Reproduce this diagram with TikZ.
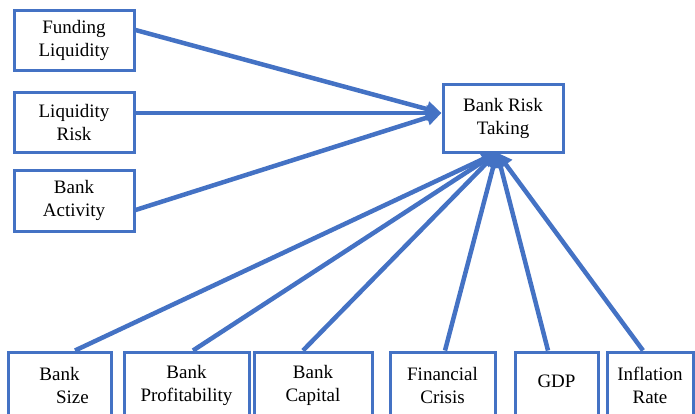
\documentclass[tikz,border=0pt]{standalone}
\usepackage{fontspec}
\setmainfont{Liberation Serif}
\newfontfamily\tnr{Liberation Serif}
\usetikzlibrary{arrows.meta}
\definecolor{boxblue}{HTML}{4472C4}
\begin{document}
\begin{tikzpicture}[x=1pt,y=-1pt,
  box/.style={draw=boxblue,line width=3pt,fill=white,align=center,inner sep=0pt,
    font=\tnr\fontsize{19}{23}\selectfont},
  link/.style={draw=boxblue,line width=4.5pt,-{Triangle[length=15pt,width=15pt]}}]
\useasboundingbox (0,0) rectangle (695,413);
\clip (0,0) rectangle (695,413);
% left boxes
\node[box,minimum width=120pt,minimum height=60pt] (fund) at (74,40) {Funding\\Liquidity};
\node[box,minimum width=120pt,minimum height=60pt] (liq) at (74,122) {Liquidity\\Risk};
\node[box,minimum width=120pt,minimum height=61pt] (act) at (74,200.5) {Bank\\Activity};
% target
\node[box,minimum width=120pt,minimum height=68pt] (brt) at (503,118) {Bank Risk\\Taking};
% bottom boxes
\node[box,minimum width=103pt,minimum height=66pt] (size) at (59.5,385) {Bank\\\hspace*{26pt}Size};
\node[box,minimum width=125pt,minimum height=66pt] (prof) at (186.5,385) {Bank\\Profitability};
\node[box,minimum width=118pt,minimum height=66pt] (cap) at (313,385) {Bank\\Capital};
\node[box,minimum width=105pt,minimum height=66pt] (cris) at (442.5,385) {Financial\\Crisis};
\node[box,minimum width=83pt,minimum height=66pt] (gdp) at (556.5,385) {\raisebox{7pt}{GDP}};
\node[box,minimum width=86pt,minimum height=66pt] (infl) at (650,385) {Inflation\\Rate};
% connectors
\draw[link] ([yshift=10pt]fund.east) -- ([yshift=5pt]brt.west);
\draw[link] ([yshift=9pt]liq.east) -- ([yshift=5pt]brt.west);
\draw[link] ([yshift=-9.5pt]act.east) -- ([yshift=5pt]brt.west);
\draw[link] ([xshift=15.5pt]size.north) -- ([xshift=-6pt,yshift=1pt]brt.south);
\draw[link] ([xshift=6.5pt]prof.north) -- ([xshift=-6pt,yshift=1pt]brt.south);
\draw[link] ([xshift=-10pt]cap.north) -- ([xshift=-6pt,yshift=1pt]brt.south);
\draw[link] ([xshift=2.5pt]cris.north) -- ([xshift=-6pt,yshift=1pt]brt.south);
\draw[link] ([xshift=-8.5pt]gdp.north) -- ([xshift=-6pt,yshift=1pt]brt.south);
\draw[link] ([xshift=-7pt]infl.north) -- ([xshift=-6pt,yshift=1pt]brt.south);
\end{tikzpicture}
\end{document}
